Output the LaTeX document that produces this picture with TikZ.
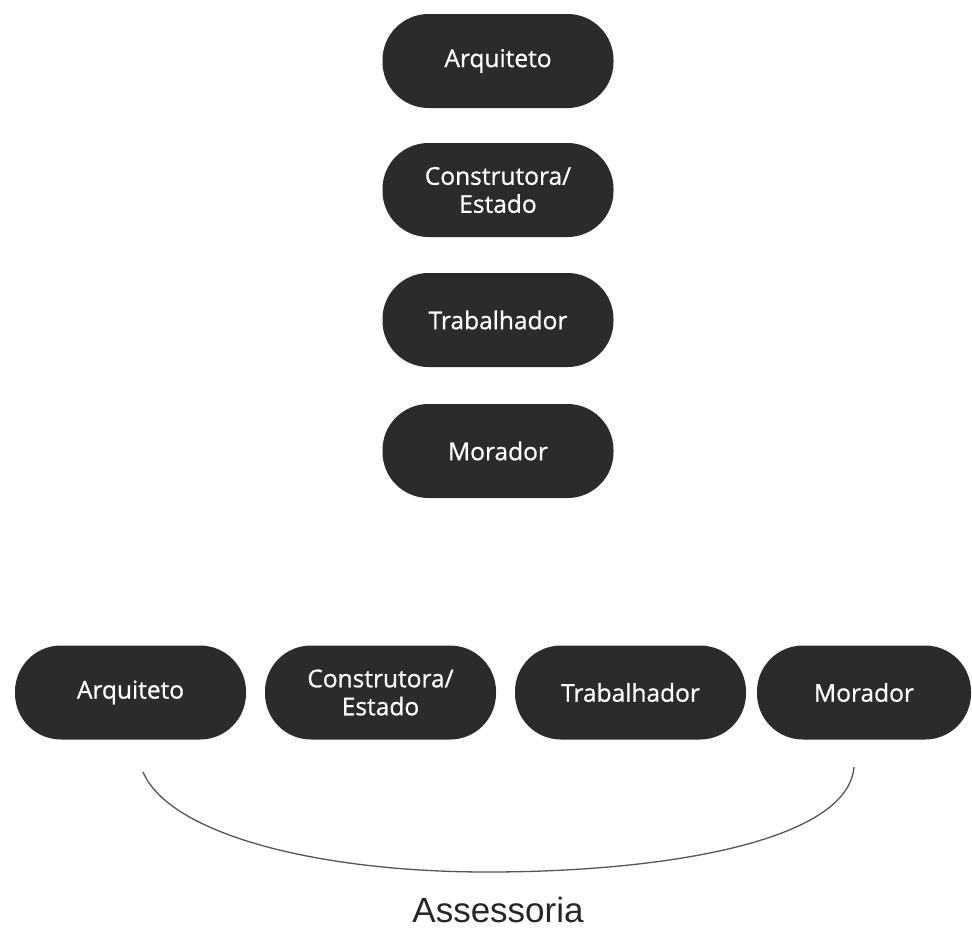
\documentclass[tikz,border=0pt]{standalone}
\usepackage{fontspec}
\setmainfont{Liberation Sans}
\newfontfamily\nodefont[FakeBold=0.8]{Open Sans}
\definecolor{pill}{HTML}{2C2B2B}
\definecolor{curvec}{HTML}{555555}
\begin{document}
\begin{tikzpicture}[x=1pt,y=-1pt,
  pillbox/.style={rectangle, rounded corners=46pt, fill=pill, draw=none,
    minimum width=231pt, minimum height=94pt, inner sep=0pt,
    text=white, align=center, font=\nodefont\fontsize{24.5}{28}\selectfont}]
\useasboundingbox (0,0) rectangle (972,930);
\fill[white] (0,0) rectangle (972,930);
% top column
\node[pillbox] (a1) at (498,61) {Arquiteto};
\node[pillbox] (c1) at (498,190) {Construtora/\\Estado};
\node[pillbox] (t1) at (498,320) {Trabalhador};
\node[pillbox] (m1) at (498,451) {Morador};
% bottom row
\node[pillbox] (a2) at (130.5,692.5) {Arquiteto};
\node[pillbox] (c2) at (380.5,692.5) {Construtora/\\Estado};
\node[pillbox] (t2) at (630.5,692.5) {Trabalhador};
\node[pillbox, minimum width=214pt] (m2) at (864,692.5) {Morador};
% bracket curve
\coordinate (cs) at (143,772);
\coordinate (cm) at (487,872);
\coordinate (ce) at (854,767);
\draw[curvec, line width=1.3pt] (cs) .. controls (170,835) and (320,872) .. (cm)
  .. controls (670,872) and (848,840) .. (ce);
\node[font=\fontsize{35}{40}\selectfont, text=black!85, anchor=base, inner sep=0pt] (as) at (498,922) {Assessoria};
\end{tikzpicture}
\end{document}
